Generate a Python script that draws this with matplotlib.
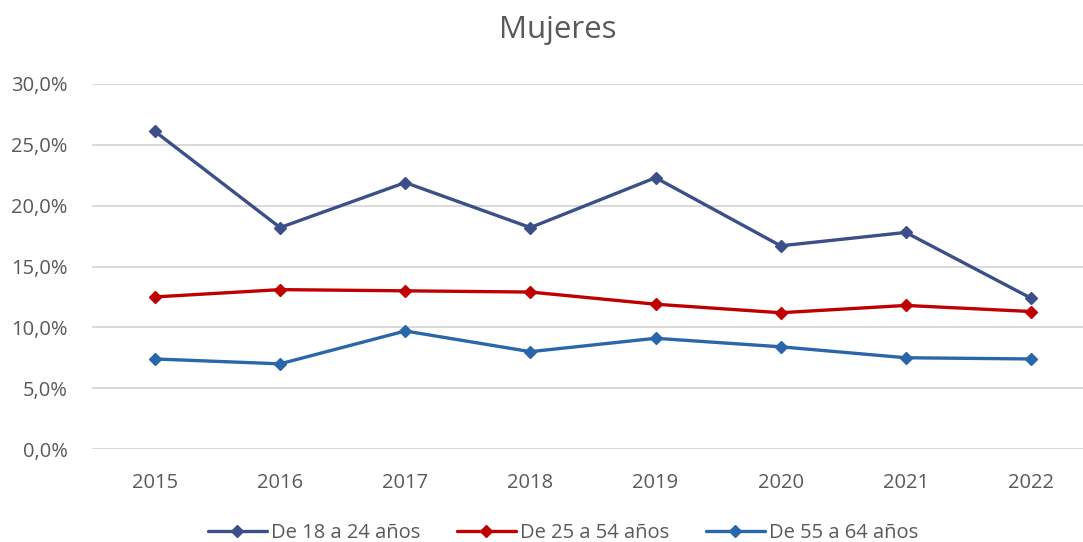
import matplotlib
matplotlib.use("Agg")
import matplotlib.pyplot as plt
from matplotlib.ticker import FuncFormatter

years = ["2015", "2016", "2017", "2018", "2019", "2020", "2021", "2022"]
s18_24 = [26.1, 18.2, 21.9, 18.2, 22.3, 16.7, 17.8, 12.4]
s25_54 = [12.5, 13.1, 13.0, 12.9, 11.9, 11.2, 11.8, 11.3]
s55_64 = [7.4, 7.0, 9.7, 8.0, 9.1, 8.4, 7.5, 7.4]
labels = ["De 18 a 24 años", "De 25 a 54 años", "De 55 a 64 años"]
colors = ["#3B4F88", "#C00000", "#2A67AA"]

plt.rcParams['font.family'] = ['Open Sans', 'DejaVu Sans']
text_color = "#595959"

fig = plt.figure(figsize=(10.83, 5.42), dpi=100)
W, H = 1083, 542
left, right, top, bottom = 92.4, 1083, 84, 449
ax = fig.add_axes([left / W, (H - bottom) / H, (right - left) / W, (bottom - top) / H])

x = list(range(len(years)))
for vals, lab, col in zip([s18_24, s25_54, s55_64], labels, colors):
    ax.plot(x, vals, color=col, lw=2.4, marker='D', markersize=6.5, label=lab,
            solid_capstyle='round', zorder=3)

step = 125.14
ax.set_xlim(-0.5, -0.5 + (right - left) / step)
ax.set_ylim(0, 30)
ax.set_yticks([0, 5, 10, 15, 20, 25, 30])
ax.yaxis.set_major_formatter(FuncFormatter(lambda v, p: f"{v:.1f}".replace('.', ',') + "%"))
ax.set_xticks(x)
ax.set_xticklabels(years)
ax.grid(axis='y', color='#D9D9D9', lw=1.4, zorder=0)
for s in ax.spines.values():
    s.set_visible(False)
ax.tick_params(axis='both', length=0, labelsize=14.5, labelcolor=text_color)
ax.tick_params(axis='y', pad=18)
ax.tick_params(axis='x', pad=17)

fig.text(558 / W, 1 - 30 / H, "Mujeres", ha='center', va='center', fontsize=22.5, color=text_color)

leg = fig.legend(loc='center', bbox_to_anchor=(563 / W, 1 - 533 / H), ncol=3, frameon=False,
                 fontsize=14.5, handlelength=2.9, columnspacing=1.85, handletextpad=0.2)
for t in leg.get_texts():
    t.set_color(text_color)

fig.savefig("out.png", dpi=100)
